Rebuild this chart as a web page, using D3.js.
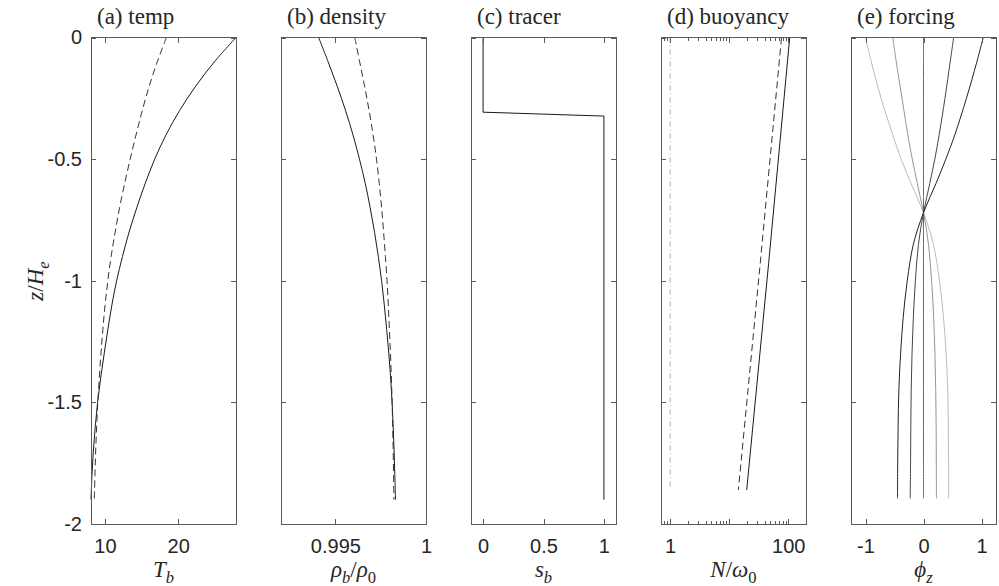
<!DOCTYPE html>
<html><head><meta charset="utf-8">
<script src="https://cdn.jsdelivr.net/npm/d3@7"></script>
<style>body{margin:0;background:#fff}svg{display:block}</style>
</head><body><svg id="c" width="999" height="586"></svg>
<script>
// ---------------- data ----------------
const zGrid = [0,-0.1,-0.2,-0.3,-0.4,-0.5,-0.6,-0.7,-0.8,-0.9,-1.0,-1.1,-1.2,-1.3,-1.4,-1.5,-1.6,-1.7,-1.8,-1.9];
const tempSolid  = [27.9,24.95,22.4,20.2,18.35,16.8,15.5,14.35,13.3,12.4,11.6,10.95,10.4,9.9,9.42,9.0,8.68,8.42,8.23,8.1];
const tempDashed = [18.4,17.15,16.05,15.1,14.25,13.45,12.7,12.0,11.4,10.85,10.4,10.02,9.72,9.46,9.23,9.03,8.87,8.74,8.64,8.55];
const densSolid  = [0.99408,0.99460,0.99510,0.99556,0.99597,0.99633,0.99665,0.99692,0.99716,0.99737,0.99755,0.99770,0.99783,0.99795,0.99805,0.99813,0.99819,0.99824,0.99828,0.99832];
const densDashed = [0.99607,0.99634,0.99661,0.99686,0.99708,0.99727,0.99742,0.99755,0.99766,0.99776,0.99785,0.99792,0.99798,0.99804,0.99809,0.99813,0.99816,0.99819,0.99821,0.99823];
const zTracer = [0,-0.307,-0.323,-1.9];
const tracer  = [0,0,1,1];
const zBuoy = [0,-0.93,-1.86];
const buoySolid  = [106,46.5,19.8];
const buoyDashed = [77,33.5,14.3];
const buoyRef    = [1,1,1];
const zForce = [0,-0.1,-0.25,-0.4,-0.5,-0.6,-0.72,-0.85,-1.0,-1.15,-1.3,-1.45,-1.6,-1.75,-1.895];
const force1 = [-1.0,-0.9,-0.73,-0.53,-0.385,-0.215,0,0.17,0.275,0.345,0.39,0.418,0.428,0.432,0.433];
const force2 = [-0.53,-0.47,-0.37,-0.27,-0.193,-0.107,0,0.086,0.14,0.175,0.197,0.211,0.218,0.221,0.223];
const force3 = [0,0,0,0,0,0,0,0,0,0,0,0,0,0,0];
const force4 = [0.52,0.46,0.37,0.27,0.195,0.108,0,-0.087,-0.14,-0.175,-0.198,-0.212,-0.219,-0.223,-0.229];
const force5 = [1.03,0.92,0.74,0.54,0.385,0.215,0,-0.175,-0.28,-0.35,-0.395,-0.425,-0.438,-0.445,-0.448];
const titles = ["(a) temp","(b) density","(c) tracer","(d) buoyancy","(e) forcing"];
const yTicks = [0,-0.5,-1,-1.5,-2];
const yTickLabels = ["0","-0.5","-1","-1.5","-2"];
const xTicksA = [10,20], xLabelsA = ["10","20"];
const xTicksB = [0.995,1], xLabelsB = ["0.995","1"];
const xTicksC = [0,0.5,1], xLabelsC = ["0","0.5","1"];
const xTicksD = [1,10,100], xLabelsD = ["1","","100"];
const xMinorD = [0.8,0.9,2,3,4,5,6,7,8,9,20,30,40,50,60,70,80,90];
const xTicksE = [-1,0,1], xLabelsE = ["-1","0","1"];

// ---------------- layout ----------------
const svg = d3.select("#c");
const TOP = 37.5, BOT = 524, PW = 145, L0 = 91, STEP = 190;
const y = d3.scaleLinear().domain([-2,0]).range([BOT,TOP]);
const frameCol = "#5a5a5a", textCol = "#262626";
const serif = "'Liberation Serif','Times New Roman',serif";
const sans = "'Liberation Sans',Arial,Helvetica,sans-serif";

const panels = [
  {x: d3.scaleLinear().domain([8.1,27.9]), ticks:xTicksA, labels:xLabelsA,
   xlab:[["T",1,0],["b",1,1]],
   series:[{v:tempSolid,z:zGrid,col:"#1a1a1a"},{v:tempDashed,z:zGrid,col:"#333",dash:"7,4"}], curve:d3.curveCatmullRom},
  {x: d3.scaleLinear().domain([0.992,1]), ticks:xTicksB, labels:xLabelsB,
   xlab:[["ρ",1,0],["b",1,1],["/",0,0],["ρ",1,0],["0",0,1]],
   series:[{v:densSolid,z:zGrid,col:"#1a1a1a"},{v:densDashed,z:zGrid,col:"#333",dash:"7,4"}], curve:d3.curveCatmullRom},
  {x: d3.scaleLinear().domain([-0.1,1.1]), ticks:xTicksC, labels:xLabelsC,
   xlab:[["s",1,0],["b",1,1]],
   series:[{v:tracer,z:zTracer,col:"#1a1a1a"}], curve:d3.curveLinear},
  {x: d3.scaleLog().domain([0.7,200]), ticks:xTicksD, labels:xLabelsD, minor:xMinorD,
   xlab:[["N",1,0],["/",0,0],["ω",1,0],["0",0,1]],
   series:[{v:buoySolid,z:zBuoy,col:"#1a1a1a"},{v:buoyDashed,z:zBuoy,col:"#333",dash:"7,4"},
           {v:buoyRef,z:zBuoy,col:"#aaa",dash:"5,3,1,3"}], curve:d3.curveLinear},
  {x: d3.scaleLinear().domain([-1.25,1.25]), ticks:xTicksE, labels:xLabelsE,
   xlab:[["ϕ",1,0],["z",1,1]],
   series:[{v:force1,z:zForce,col:"#bdbdbd"},{v:force2,z:zForce,col:"#959595"},{v:force3,z:zForce,col:"#6a6a6a"},
           {v:force4,z:zForce,col:"#444"},{v:force5,z:zForce,col:"#222"}], curve:d3.curveCatmullRom}
];

function richText(g, parts, size){
  let sub = false;
  parts.forEach(([s,it,sb])=>{
    let dy = 0;
    if (sb && !sub) dy = size*0.28; else if (!sb && sub) dy = -size*0.28;
    sub = !!sb;
    g.append("tspan").text(s)
      .attr("font-style", it ? "italic" : "normal")
      .attr("font-size", sb ? size*0.72 : size)
      .attr("dy", dy);
  });
}

panels.forEach((p,i)=>{
  const left = L0 + i*STEP, right = left + PW;
  p.x.range([left,right]);
  const g = svg.append("g");

  p.series.forEach(s=>{
    const pts = s.v.map((v,k)=>[v,s.z[k]]);
    g.append("path").datum(pts)
      .attr("d", d3.line().x(d=>p.x(d[0])).y(d=>y(d[1])).curve(p.curve))
      .attr("fill","none").attr("stroke",s.col).attr("stroke-width",1)
      .attr("stroke-dasharray", s.dash || null);
  });

  const fmt = (d)=>p.labels[p.ticks.indexOf(d)];
  g.append("g").attr("transform",`translate(0,${BOT})`)
    .call(d3.axisBottom(p.x).tickValues(p.ticks).tickFormat(fmt).tickSizeInner(-5).tickSizeOuter(0).tickPadding(14.5));
  g.append("g").attr("transform",`translate(0,${TOP})`)
    .call(d3.axisTop(p.x).tickValues(p.ticks).tickFormat("").tickSizeInner(-5).tickSizeOuter(0));
  if (p.minor){
    g.append("g").attr("transform",`translate(0,${BOT})`)
      .call(d3.axisBottom(p.x).tickValues(p.minor).tickFormat("").tickSizeInner(-3).tickSizeOuter(0));
    g.append("g").attr("transform",`translate(0,${TOP})`)
      .call(d3.axisTop(p.x).tickValues(p.minor).tickFormat("").tickSizeInner(-3).tickSizeOuter(0));
  }
  g.append("g").attr("transform",`translate(${left},0)`)
    .call(d3.axisLeft(y).tickValues(yTicks).tickFormat(i===0 ? (d=>yTickLabels[yTicks.indexOf(d)]) : "")
      .tickSizeInner(-5).tickSizeOuter(0).tickPadding(9));
  g.append("g").attr("transform",`translate(${right},0)`)
    .call(d3.axisRight(y).tickValues(yTicks).tickFormat("").tickSizeInner(-5).tickSizeOuter(0));

  g.selectAll(".domain").remove();
  g.selectAll(".tick line").attr("stroke",frameCol).attr("shape-rendering","crispEdges");
  g.selectAll(".tick text").attr("fill",textCol).attr("font-family",sans).attr("font-size",20);

  g.append("rect").attr("x",left).attr("y",TOP).attr("width",PW).attr("height",BOT-TOP)
    .attr("fill","none").attr("stroke",frameCol).attr("stroke-width",1).attr("shape-rendering","crispEdges");

  g.append("text").attr("x",left+6).attr("y",24).attr("font-family",serif).attr("font-size",23)
    .attr("fill",textCol).text(titles[i]);

  const xl = g.append("text").attr("x",(left+right)/2).attr("y",577).attr("text-anchor","middle")
    .attr("font-family",serif).attr("fill",textCol);
  richText(xl, p.xlab, 23);
});

const yl = svg.append("text").attr("transform","translate(43,281) rotate(-90)")
  .attr("text-anchor","middle").attr("font-family",serif).attr("fill",textCol);
richText(yl, [["z",1,0],["/",0,0],["H",1,0],["e",1,1]], 23);
</script></body></html>
